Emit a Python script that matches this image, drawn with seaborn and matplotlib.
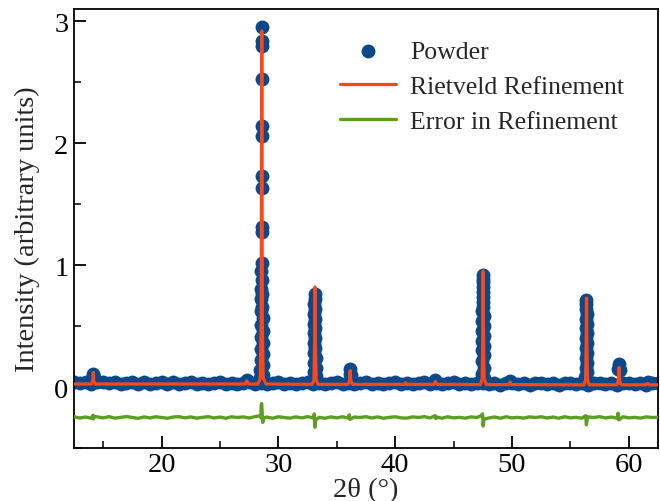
import numpy as np
import pandas as pd
import matplotlib
matplotlib.use("Agg")
import matplotlib.pyplot as plt
from matplotlib.ticker import MultipleLocator
import seaborn as sns

# ---------------- data ----------------
# observed powder pattern: baseline band
base_2theta = [12.5, 13.0, 13.5, 14.0, 14.5, 15.0, 15.5, 16.0, 16.5, 17.0,
               17.5, 18.0, 18.5, 19.0, 19.5, 20.0, 20.5, 21.0, 21.5, 22.0,
               22.5, 23.0, 23.5, 24.0, 24.5, 25.0, 25.5, 26.0, 26.5, 27.0,
               27.5, 28.0, 28.5, 29.0, 29.5, 30.0, 30.5, 31.0, 31.5, 32.0,
               32.5, 33.0, 33.5, 34.0, 34.5, 35.0, 35.5, 36.0, 36.5, 37.0,
               37.5, 38.0, 38.5, 39.0, 39.5, 40.0, 40.5, 41.0, 41.5, 42.0,
               42.5, 43.0, 43.5, 44.0, 44.5, 45.0, 45.5, 46.0, 46.5, 47.0,
               47.5, 48.0, 48.5, 49.0, 49.5, 50.0, 50.5, 51.0, 51.5, 52.0,
               52.5, 53.0, 53.5, 54.0, 54.5, 55.0, 55.5, 56.0, 56.5, 57.0,
               57.5, 58.0, 58.5, 59.0, 59.5, 60.0, 60.5, 61.0, 61.5, 62.0,
               62.5]
base_intensity = [0.042, 0.030, 0.040, 0.028, 0.038, 0.044, 0.029, 0.039, 0.026, 0.037,
                  0.043, 0.028, 0.038, 0.025, 0.036, 0.042, 0.027, 0.039, 0.024, 0.035,
                  0.041, 0.026, 0.037, 0.024, 0.034, 0.040, 0.025, 0.036, 0.023, 0.034,
                  0.040, 0.025, 0.036, 0.024, 0.034, 0.039, 0.025, 0.036, 0.022, 0.034,
                  0.039, 0.024, 0.035, 0.022, 0.033, 0.039, 0.024, 0.035, 0.022, 0.033,
                  0.038, 0.024, 0.035, 0.021, 0.033, 0.038, 0.024, 0.034, 0.021, 0.032,
                  0.038, 0.023, 0.034, 0.021, 0.032, 0.038, 0.023, 0.034, 0.021, 0.032,
                  0.037, 0.023, 0.034, 0.020, 0.032, 0.037, 0.023, 0.033, 0.020, 0.031,
                  0.037, 0.022, 0.033, 0.020, 0.031, 0.037, 0.022, 0.033, 0.020, 0.031,
                  0.036, 0.022, 0.033, 0.019, 0.031, 0.036, 0.022, 0.032, 0.019, 0.030,
                  0.035]

# observed powder pattern: points on the reflections
peak_2theta = ([14.12, 14.16, 14.20, 27.30] +
               [28.58] * 11 +
               [28.53, 28.63, 28.53, 28.63, 28.52, 28.64, 28.51, 28.65, 28.50, 28.66,
                28.49, 28.67, 28.49, 28.67, 28.48, 28.68, 28.47, 28.69, 28.46] +
               [33.12, 33.12, 33.09, 33.15, 33.08, 33.16, 33.08, 33.16, 33.07, 33.17,
                33.07, 33.17, 33.06, 33.18, 33.05, 33.19, 33.05, 33.19, 33.04] +
               [36.10, 36.15, 36.20, 43.44, 49.83] +
               [47.52, 47.52, 47.49, 47.55, 47.48, 47.56, 47.48, 47.56, 47.47, 47.57,
                47.47, 47.57, 47.46, 47.58, 47.46, 47.58, 47.45, 47.59, 47.44, 47.60,
                47.43, 47.61] +
               [56.36, 56.36, 56.33, 56.39, 56.33, 56.39, 56.32, 56.40, 56.32, 56.40,
                56.31, 56.41, 56.31, 56.41, 56.30, 56.42, 56.29, 56.43] +
               [59.10, 59.16, 59.22, 61.60])
peak_intensity = ([0.08, 0.11, 0.08, 0.055] +
                  [2.95, 2.84, 2.80, 2.53, 2.14, 2.06, 1.73, 1.63, 1.31, 1.27, 1.02] +
                  [0.95, 0.88, 0.80, 0.76, 0.72, 0.66, 0.62, 0.57, 0.51, 0.46,
                   0.41, 0.36, 0.31, 0.27, 0.22, 0.18, 0.14, 0.10, 0.07] +
                  [0.76, 0.72, 0.68, 0.64, 0.60, 0.56, 0.52, 0.48, 0.44, 0.40,
                   0.36, 0.32, 0.28, 0.24, 0.20, 0.16, 0.12, 0.09, 0.06] +
                  [0.11, 0.145, 0.10, 0.055, 0.05] +
                  [0.92, 0.89, 0.86, 0.82, 0.78, 0.74, 0.70, 0.66, 0.62, 0.58,
                   0.54, 0.50, 0.46, 0.42, 0.38, 0.34, 0.30, 0.26, 0.21, 0.16,
                   0.11, 0.07] +
                  [0.71, 0.68, 0.64, 0.60, 0.56, 0.52, 0.48, 0.44, 0.40, 0.36,
                   0.32, 0.28, 0.24, 0.20, 0.16, 0.12, 0.08, 0.06] +
                  [0.15, 0.19, 0.14, 0.045])

# Rietveld refinement (calculated profile)
calc_2theta = [12.5, 14.0, 14.12, 14.16, 14.20, 14.32, 27.15, 27.30, 27.45,
               28.25, 28.45, 28.53, 28.58, 28.63, 28.71, 28.95,
               32.90, 33.05, 33.11, 33.14, 33.17, 33.23, 33.40,
               35.95, 36.10, 36.15, 36.20, 36.35, 40.80, 40.90, 41.00,
               43.30, 43.44, 43.58, 47.30, 47.45, 47.50, 47.53, 47.56, 47.61, 47.80,
               49.70, 49.83, 49.95, 56.15, 56.30, 56.35, 56.38, 56.41, 56.46, 56.60,
               58.98, 59.10, 59.16, 59.22, 59.35, 61.45, 61.60, 61.75, 62.5]
calc_intensity = [0.025, 0.025, 0.05, 0.12, 0.05, 0.025, 0.025, 0.05, 0.025,
                  0.025, 0.07, 0.50, 2.92, 0.50, 0.07, 0.025,
                  0.022, 0.06, 0.40, 0.82, 0.40, 0.06, 0.022,
                  0.022, 0.05, 0.135, 0.05, 0.022, 0.022, 0.035, 0.022,
                  0.022, 0.045, 0.022, 0.020, 0.07, 0.45, 0.95, 0.45, 0.07, 0.020,
                  0.020, 0.04, 0.020, 0.018, 0.06, 0.36, 0.73, 0.36, 0.06, 0.018,
                  0.018, 0.05, 0.16, 0.05, 0.018, 0.018, 0.03, 0.018, 0.018]

# difference curve (observed - calculated, offset)
err_grid = [-0.244, -0.254, -0.246, -0.256, -0.245, -0.253, -0.243, -0.255, -0.249, -0.242,
            -0.250, -0.257, -0.245, -0.254, -0.244, -0.250, -0.256, -0.246, -0.243, -0.253,
            -0.245, -0.255, -0.249, -0.243, -0.254, -0.246, -0.256, -0.244, -0.250, -0.245,
            -0.254, -0.243, -0.253, -0.246, -0.256, -0.244, -0.250, -0.255, -0.245, -0.253,
            -0.243, -0.254, -0.249, -0.256, -0.245, -0.253, -0.244, -0.255, -0.246, -0.250,
            -0.243, -0.254, -0.245, -0.256, -0.249, -0.244, -0.253, -0.255, -0.245, -0.250,
            -0.243, -0.254, -0.246, -0.256, -0.244, -0.253, -0.249, -0.255, -0.245, -0.250,
            -0.243, -0.254, -0.246, -0.256, -0.244, -0.253, -0.249, -0.255, -0.245, -0.250,
            -0.244, -0.254, -0.246, -0.256, -0.244, -0.253, -0.249, -0.255, -0.245, -0.250,
            -0.243, -0.254, -0.246, -0.256, -0.244, -0.253, -0.249, -0.255, -0.245, -0.250,
            -0.248]
spike_2theta = [14.13, 14.18, 14.24, 28.47, 28.53, 28.57, 28.61, 28.66, 28.74,
                33.02, 33.08, 33.13, 33.19, 36.07, 36.13, 43.42, 43.48,
                47.42, 47.48, 47.53, 47.60, 56.31, 56.37, 56.44, 59.08, 59.14]
spike_intensity = [-0.232, -0.262, -0.240, -0.235, -0.150, -0.135, -0.200, -0.290, -0.255,
                   -0.235, -0.220, -0.330, -0.270, -0.228, -0.265, -0.235, -0.258,
                   -0.232, -0.220, -0.320, -0.265, -0.235, -0.310, -0.262, -0.215, -0.270]

# ---------------- tables ----------------
obs = pd.DataFrame({"two_theta": base_2theta + peak_2theta,
                    "intensity": base_intensity + peak_intensity})
calc = pd.DataFrame({"two_theta": calc_2theta, "intensity": calc_intensity})
err = pd.DataFrame({"two_theta": base_2theta + spike_2theta,
                    "intensity": err_grid + spike_intensity}).sort_values("two_theta", kind="stable")

# ---------------- style ----------------
sns.set_style("ticks")
plt.rcParams["font.family"] = ["Liberation Serif", "DejaVu Serif"]
plt.rcParams["mathtext.fontset"] = "stix"
plt.rcParams["xtick.top"] = False
plt.rcParams["ytick.right"] = False

blue = "#0a4a8c"
red = "#ff4716"
green = "#5c9f1f"

fig = plt.figure(figsize=(6.6, 5.02), dpi=100)
ax = fig.add_axes([0.112, 0.1056, 0.885, 0.8744])

sns.scatterplot(data=obs, x="two_theta", y="intensity", ax=ax, color=blue,
                s=100, linewidth=0, label="Powder", zorder=2)
sns.lineplot(data=calc, x="two_theta", y="intensity", ax=ax, color=red,
             lw=2.3, sort=False, estimator=None, label="Rietveld Refinement", zorder=3)
sns.lineplot(data=err, x="two_theta", y="intensity", ax=ax, color=green,
             lw=2.4, sort=False, estimator=None, label="Error in Refinement", zorder=3)

ax.set_xlim(12.5, 62.5)
ax.set_ylim(-0.5, 3.1)
ax.xaxis.set_major_locator(MultipleLocator(10))
ax.xaxis.set_minor_locator(MultipleLocator(5))
ax.yaxis.set_major_locator(MultipleLocator(1))
ax.yaxis.set_minor_locator(MultipleLocator(0.5))
ax.tick_params(which="major", direction="in", length=8.5, width=1.3,
               labelsize=20.5, pad=4, colors="black")
ax.tick_params(which="minor", direction="in", length=5, width=1.3)
ax.tick_params(axis="x", which="major", pad=3)
ax.xaxis.set_ticks_position("bottom")
ax.yaxis.set_ticks_position("left")
for sp in ax.spines.values():
    sp.set_linewidth(1.3)
    sp.set_color("black")

ax.set_xlabel("2θ (°)", fontsize=20.5, labelpad=0)
ax.set_ylabel("Intensity (arbitrary units)", fontsize=20.5, labelpad=10)

leg = ax.legend(loc="upper left", bbox_to_anchor=(0.455, 0.93), frameon=False,
                fontsize=18.5, handlelength=2.2, handletextpad=0.55,
                labelspacing=0.47, borderpad=0, borderaxespad=0)

fig.savefig("out.png", dpi=100)
